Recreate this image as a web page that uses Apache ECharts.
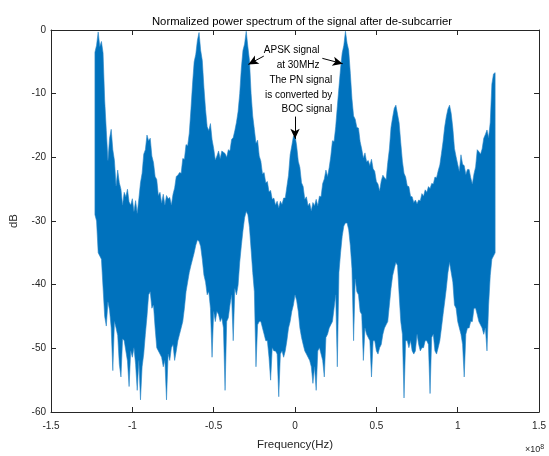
<!DOCTYPE html>
<html><head><meta charset="utf-8">
<script src="https://cdn.jsdelivr.net/npm/echarts@6/dist/echarts.min.js"></script>
<style>html,body{margin:0;padding:0;background:#fff}#c{width:549px;height:456px}</style>
</head><body><div id="c"></div>
<script>
// Frequency grid of the envelope samples (MHz)
const freqStartMHz = -123;
const freqStepMHz = 1;

// Upper envelope of the spectrum (dB), -123 MHz .. 123 MHz
const upperDb = [
 -3.5,-2.4,-0.3,-2.6,-1.8,-3.6,-11.0,-15.8,-20.5,-17.0,
 -15.6,-18.8,-20.5,-24.5,-22.0,-24.0,-25.0,-27.5,-25.5,-26.2,
 -25.0,-27.0,-27.5,-26.5,-28.5,-26.8,-28.8,-26.5,-24.0,-22.5,
 -19.5,-18.8,-16.5,-17.4,-17.0,-19.8,-20.8,-23.0,-23.5,-26.0,
 -25.5,-27.2,-25.8,-27.5,-26.0,-26.5,-26.3,-27.5,-25.8,-24.8,
 -23.0,-22.8,-22.4,-22.5,-20.2,-20.3,-18.0,-18.2,-16.2,-12.5,
 -8.5,-5.0,-3.8,-1.6,-0.4,-3.2,-4.8,-9.0,-12.5,-15.2,
 -15.8,-14.7,-17.2,-18.6,-20.4,-19.8,-19.0,-20.2,-19.0,-19.2,
 -19.4,-20.0,-18.8,-19.0,-17.2,-16.9,-15.8,-14.5,-12.8,-10.0,
 -6.0,-3.2,-2.2,-0.2,-2.6,-4.8,-10.0,-13.5,-15.6,-17.8,
 -17.3,-19.8,-20.6,-22.6,-22.4,-24.0,-23.8,-25.4,-25.2,-26.6,
 -26.4,-27.5,-26.9,-27.9,-26.9,-27.4,-26.4,-26.4,-24.6,-22.8,
 -19.6,-18.2,-16.7,
 -16.5,
 -18.2,-20.6,-21.6,-24.0,-24.6,-26.6,-26.2,-27.6,-27.2,-28.4,
 -27.1,-27.6,-26.6,-27.6,-26.1,-26.2,-24.1,-23.4,-22.0,-23.0,
 -21.6,-19.8,-17.4,-17.5,-15.2,-12.0,-9.0,-6.0,-3.6,-2.4,
 -0.2,-2.1,-3.2,-6.8,-10.8,-13.5,-14.0,-15.3,-15.4,-17.5,
 -18.7,-20.1,-19.3,-20.7,-20.5,-21.3,-20.3,-21.8,-22.2,-23.8,
 -24.2,-25.3,-23.7,-22.8,-23.2,-23.5,-20.8,-18.7,-15.3,-13.7,
 -12.3,-11.8,-13.2,-14.6,-17.7,-20.6,-22.5,-23.1,-24.5,-24.6,
 -26.1,-26.2,-27.1,-26.7,-27.3,-26.7,-26.8,-25.7,-26.1,-25.1,
 -25.5,-24.6,-24.9,-24.1,-24.2,-23.1,-23.2,-22.1,-21.2,-19.4,
 -17.5,-15.2,-13.6,-12.4,-11.8,-13.1,-15.4,-18.6,-19.9,-21.1,
 -22.2,-19.6,-21.1,-21.3,-22.7,-21.9,-21.9,-23.2,-24.2,-22.6,
 -21.5,-18.8,-19.1,-19.5,-18.7,-17.0,-16.4,-15.7,-16.9,-14.5,
 -8.5,-6.9,-6.7
];

// Lower envelope of the spectrum (dB), -123 MHz .. 123 MHz
const lowerDb = [
 -29.0,-30.0,-35.0,-35.5,-36.0,-40.5,-45.0,-46.5,-42.7,-44.0,
 -46.8,-53.5,-45.8,-46.8,-48.0,-52.5,-54.5,-48.5,-48.8,-50.4,
 -52.0,-56.0,-50.4,-51.4,-49.9,-52.5,-56.6,-51.9,-58.1,-52.9,
 -50.9,-47.8,-45.0,-41.6,-41.1,-43.7,-43.2,-46.8,-49.9,-50.4,
 -50.9,-51.4,-52.9,-51.9,-58.1,-50.9,-51.9,-49.9,-49.4,-51.9,
 -50.4,-48.8,-47.8,-46.8,-45.8,-43.7,-41.1,-39.6,-38.1,-37.0,
 -36.0,-35.0,-33.8,-33.0,-33.2,-34.0,-36.0,-38.5,-39.6,-41.6,
 -41.1,-43.7,-51.4,-44.2,-45.8,-44.2,-44.7,-45.8,-45.2,-46.8,
 -56.6,-45.8,-45.2,-43.2,-41.6,-48.8,-40.6,-41.6,-40.1,-36.5,
 -33.9,-31.5,-29.5,-28.5,-29.0,-31.0,-34.5,-38.1,-41.1,-52.9,
 -46.3,-45.8,-45.8,-46.8,-47.8,-48.8,-48.8,-51.4,-55.0,-49.9,
 -50.4,-50.4,-50.9,-57.6,-50.9,-50.4,-51.4,-50.4,-48.8,-46.8,
 -45.8,-44.2,-43.2,
 -41.6,
 -42.5,-44.2,-46.8,-48.3,-49.4,-50.4,-50.9,-51.4,-51.9,-52.9,
 -55.5,-52.9,-56.6,-50.4,-49.9,-50.9,-51.9,-54.5,-48.3,-47.8,
 -46.8,-46.3,-45.8,-43.7,-41.6,-52.9,-38.1,-35.0,-32.4,-30.8,
 -30.3,-30.3,-31.4,-33.9,-37.5,-48.8,-39.1,-41.1,-41.6,-44.2,
 -44.7,-51.9,-46.8,-47.8,-48.3,-48.8,-54.5,-48.8,-48.8,-50.4,
 -50.9,-49.9,-49.4,-47.8,-46.8,-46.3,-45.8,-43.2,-40.6,-38.6,
 -37.5,-36.5,-37.0,-41.6,-45.8,-47.8,-57.8,-48.8,-48.8,-49.9,
 -48.8,-50.4,-50.9,-50.4,-47.8,-49.4,-50.4,-49.9,-49.9,-48.8,
 -48.8,-49.4,-57.1,-48.3,-47.8,-50.4,-50.9,-49.9,-48.8,-46.8,
 -44.7,-42.7,-40.6,-38.1,-36.5,-38.1,-39.6,-43.2,-43.7,-45.8,
 -46.8,-47.8,-49.4,-54.5,-47.8,-46.8,-46.8,-45.8,-45.8,-43.7,
 -43.7,-44.7,-45.8,-46.3,-46.8,-47.8,-46.8,-50.4,-43.2,-38.6,
 -36.0,-35.5,-35.0
];

// Axis ticks
const xTicksE8 = [-1.5, -1, -0.5, 0, 0.5, 1, 1.5];
const yTicksDb = [-60, -50, -40, -30, -20, -10, 0];

// Annotations: arrows [tailX(Hz), tailY(dB), tipX(Hz), tipY(dB)]
const arrowList = [
  [-0.192e8, -4.1, -0.287e8, -5.4],
  [0.168e8, -4.45, 0.293e8, -5.3],
  [0, -13.6, 0, -17.1]
];
// Text blocks: right edge x (Hz), line y (dB), text
const textList = [
  [0.150e8, -3.24, 'APSK signal'],
  [0.150e8, -5.51, 'at 30MHz'],
  [0.2285e8, -7.97, 'The PN signal'],
  [0.2285e8, -10.29, 'is converted by'],
  [0.2285e8, -12.45, 'BOC signal']
];

const FONT = '"Liberation Sans", Arial, Helvetica, sans-serif';
const AX = '#262626';
const BLUE = '#0072BD';

const chart = echarts.init(document.getElementById('c'), null, {renderer: 'canvas'});

const xMin = xTicksE8[0] * 1e8, xMax = xTicksE8[xTicksE8.length - 1] * 1e8;
const yMin = yTicksDb[0], yMax = yTicksDb[yTicksDb.length - 1];

function baseX(pos, showLabel) {
  return {
    type: 'value', position: pos, min: xMin, max: xMax, interval: 0.5e8,
    axisLine: {show: true, onZero: false, lineStyle: {color: AX, width: 1}},
    axisTick: {show: true, inside: true, length: 5, lineStyle: {color: AX}},
    axisLabel: {show: showLabel, color: AX, fontSize: 10, fontFamily: FONT, margin: 9,
      formatter: v => String(Math.round(v / 1e7) / 10)},
    splitLine: {show: false}
  };
}
function baseY(pos, showLabel) {
  return {
    type: 'value', position: pos, min: yMin, max: yMax, interval: 10,
    axisLine: {show: true, onZero: false, lineStyle: {color: AX, width: 1}},
    axisTick: {show: true, inside: true, length: 5, lineStyle: {color: AX}},
    axisLabel: {show: showLabel, color: AX, fontSize: 10, fontFamily: FONT, margin: 5},
    splitLine: {show: false}
  };
}

const xA = baseX('bottom', true);
xA.name = 'Frequency(Hz)';
xA.nameLocation = 'middle';
xA.nameGap = 27;
xA.nameTextStyle = {color: AX, fontSize: 11.5, fontFamily: FONT};
const yA = baseY('left', true);
yA.name = 'dB';
yA.nameLocation = 'middle';
yA.nameGap = 31;
yA.nameTextStyle = {color: AX, fontSize: 11.5, fontFamily: FONT};

const option = {
  animation: false,
  backgroundColor: '#fff',
  title: {
    text: 'Normalized power spectrum of the signal after de-subcarrier',
    left: 297, textAlign: 'center', top: 11,
    textStyle: {fontSize: 11.3, fontWeight: 'normal', color: '#000', fontFamily: FONT}
  },
  grid: {left: 47, top: 30, width: 499, height: 389, containLabel: false},
  xAxis: [xA, baseX('top', false)],
  yAxis: [yA, baseY('right', false)],
  series: [
    {
      type: 'custom',
      coordinateSystem: 'cartesian2d',
      xAxisIndex: 0, yAxisIndex: 0,
      data: [[0, 0]],
      clip: true,
      silent: true,
      renderItem: function (params, api) {
        const pts = [];
        for (let i = 0; i < upperDb.length; i++) {
          pts.push(api.coord([(freqStartMHz + i * freqStepMHz) * 1e6, upperDb[i]]));
        }
        for (let i = lowerDb.length - 1; i >= 0; i--) {
          pts.push(api.coord([(freqStartMHz + i * freqStepMHz) * 1e6, lowerDb[i]]));
        }
        return {type: 'polygon', shape: {points: pts},
          style: {fill: BLUE, stroke: '#2a86c8', lineWidth: 0.6, lineJoin: 'miter'}};
      }
    },
    {
      type: 'line', data: [], xAxisIndex: 0, yAxisIndex: 0,
      markLine: {
        silent: true, animation: false,
        symbol: ['none', 'arrow'], symbolSize: [7, 10],
        lineStyle: {color: '#000', width: 1, type: 'solid'},
        label: {show: false},
        emphasis: {disabled: true},
        data: arrowList.map(a => [{coord: [a[0], a[1]]}, {coord: [a[2], a[3]]}])
      }
    }
  ]
};
chart.setOption(option);

const gtexts = textList.map(t => {
  const p = chart.convertToPixel({gridIndex: 0}, [t[0], t[1]]);
  return {type: 'text', x: p[0], y: p[1], z: 100,
    style: {text: t[2], fill: '#000', font: '10px ' + FONT, textAlign: 'right', textVerticalAlign: 'middle'}};
});
gtexts.push({type: 'text', x: 525, y: 444, z: 100,
  style: {text: '×10{s|8}', fill: AX, font: '9px ' + FONT, textAlign: 'left', textVerticalAlign: 'top',
    rich: {s: {fontSize: 7, verticalAlign: 'top', fill: AX, padding: [0, 0, 4, 0]}}}});
chart.setOption({graphic: gtexts});
</script>
</body></html>
